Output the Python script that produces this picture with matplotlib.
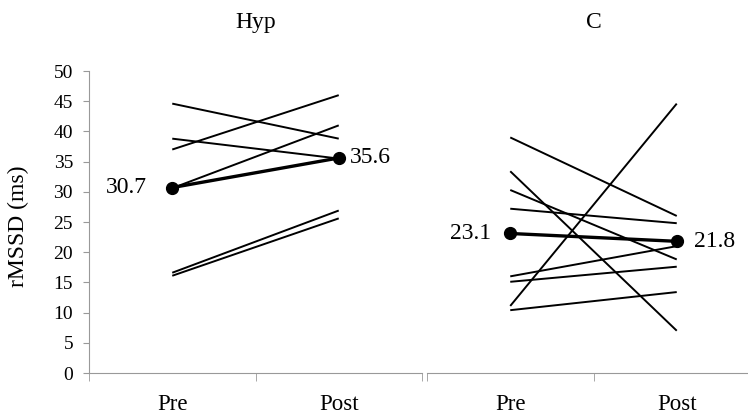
import numpy as np
import matplotlib
matplotlib.use('Agg')
import matplotlib.pyplot as plt

plt.rcParams['font.family'] = ['Liberation Serif', 'DejaVu Serif']

groups = ['Hyp', 'C']
times = ['Pre', 'Post']

# individual subjects, pre and post rMSSD (ms)
hyp_pre = [44.6, 38.8, 37.0, 30.6, 16.6, 16.1]
hyp_post = [38.8, 35.5, 46.0, 41.0, 26.9, 25.6]
c_pre = [39.0, 33.4, 30.3, 27.2, 16.0, 15.1, 11.1, 10.4]
c_post = [26.0, 7.0, 18.8, 24.8, 21.0, 17.6, 44.6, 13.4]

# group means
hyp_mean = [30.7, 35.6]
c_mean = [23.1, 21.8]

W, H = 748, 418
fig = plt.figure(figsize=(W / 100, H / 100), dpi=100)

grey = '#999999'
big = 17


def px_axes(x0, x1, y0, y1):
    return fig.add_axes([x0 / W, 1 - y1 / H, (x1 - x0) / W, (y1 - y0) / H])


ax1 = px_axes(89, 422, 71, 373)
ax2 = px_axes(427, 760, 71, 373)

panels = [(ax1, hyp_pre, hyp_post, hyp_mean, (-25, 11)),
          (ax2, c_pre, c_post, c_mean, (-19, 17))]

for i, (ax, pre, post, mean, offs) in enumerate(panels):
    for a, b in zip(pre, post):
        ax.plot([0.5, 1.5], [a, b], color='black', lw=1.4, solid_capstyle='butt')
    ax.plot([0.5, 1.5], mean, color='black', lw=2.4, marker='o', ms=8.5,
            solid_capstyle='butt')
    ax.annotate('{:.1f}'.format(mean[0]), (0.5, mean[0]), xytext=(offs[0] * 0.72, 0),
                textcoords='offset points', ha='right', va='center', fontsize=big)
    ax.annotate('{:.1f}'.format(mean[1]), (1.5, mean[1]), xytext=(offs[1] * 0.72, 0),
                textcoords='offset points', ha='left', va='center', fontsize=big)

    ax.set_xlim(0, 2)
    ax.set_ylim(0, 50)
    ax.set_title(groups[i], fontsize=big, pad=31)

    for s in ['top', 'right']:
        ax.spines[s].set_visible(False)
    ax.spines['bottom'].set_color(grey)
    ax.spines['left'].set_color(grey)

    ax.set_xticks([0.5, 1.5])
    ax.set_xticklabels(times, fontsize=16.5)
    ax.set_xticks([0, 1, 2], minor=True)
    ax.tick_params(axis='x', which='major', length=0, pad=15)
    ax.tick_params(axis='x', which='minor', length=6, color=grey, direction='out')

ax1.set_yticks(np.arange(0, 51, 5))
ax1.tick_params(axis='y', labelsize=14, length=4.5, color=grey, pad=7)
ax1.set_ylabel('rMSSD (ms)', fontsize=big, va='center')
ax1.yaxis.set_label_coords(-0.213, 0.487)

ax2.spines['left'].set_visible(False)
ax2.set_yticks([])

fig.savefig('out.png', dpi=100)
